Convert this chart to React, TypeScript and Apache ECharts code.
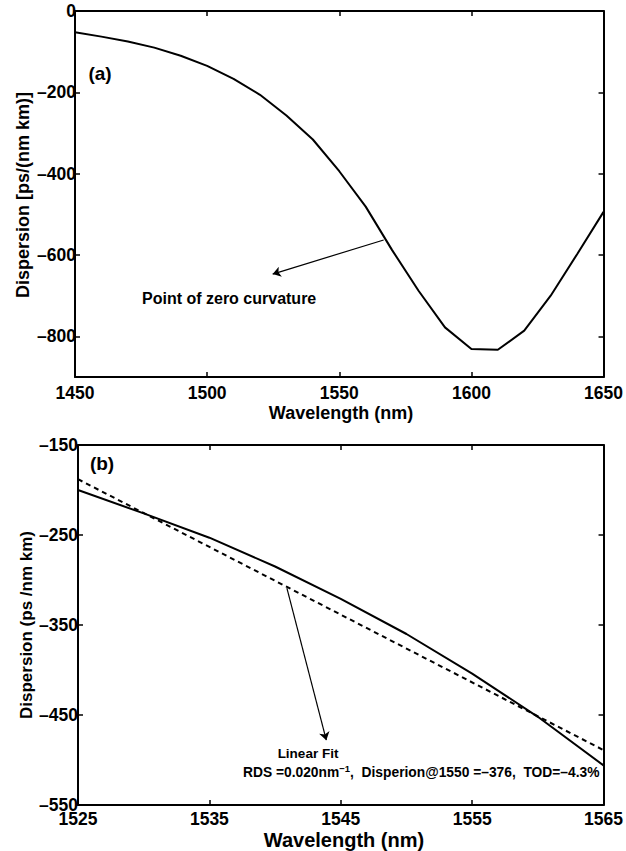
import React, { useEffect, useRef } from 'react';
import * as echarts from 'echarts';

// ---------- Data ----------
// Panel (a): dispersion vs wavelength
const lambdaA = [1450, 1460, 1470, 1480, 1490, 1500, 1510, 1520, 1530, 1540, 1550, 1560, 1570, 1580, 1590, 1600, 1610, 1620, 1630, 1640, 1650];
const dispA = [-52, -63, -75, -90, -110, -135, -167, -206, -257, -316, -394, -481, -588, -688, -778, -831, -833, -786, -700, -598, -494];
const yTicksA = [0, -200, -400, -600, -800];
// arrow: from point of zero curvature to label
const arrowA = [[1566.8, -563], [1524.8, -647]];

// Panel (b): zoom on 1525-1565 with linear fit
const lambdaB = [1525, 1530, 1535, 1540, 1545, 1550, 1555, 1560, 1565];
const dispB = [-200, -226, -253, -285, -321, -360, -404, -452, -506];
const fitLambdaB = [1525, 1565];
const fitDispB = [-188, -489];
const arrowB = [[1540.9, -309], [1543.9, -478]];

const FONT = '"Liberation Sans", Arial, Helvetica, sans-serif';
const BLACK = '#000';

const fmt = (v: number) => (v < 0 ? '\u2013' + Math.abs(v) : String(v));

const axisLine = { show: true, onZero: false, lineStyle: { color: BLACK, width: 2 } };
const tickStyle = { color: BLACK, width: 1.5 };
const labelStyle = { color: BLACK, fontSize: 17.5, fontWeight: 'bold' as const, fontFamily: FONT };

export default function App() {
  const ref = useRef<HTMLDivElement>(null);

  useEffect(() => {
    const chart = echarts.init(ref.current!, null, { renderer: 'svg' });

    const xA = { min: 1450, max: 1650, interval: 50 };
    const yA = { min: -900, max: 0 };
    const xB = { min: 1525, max: 1565, interval: 10 };
    const yB = { min: -550, max: -150, interval: 100 };

    const option: any = {
      animation: false,
      backgroundColor: '#fff',
      grid: [
        { left: 75, top: 11, width: 530, height: 366 },
        { left: 78, top: 445, width: 529, height: 360 },
      ],
      xAxis: [
        {
          gridIndex: 0, type: 'value', position: 'bottom', ...xA,
          axisLine, splitLine: { show: false },
          axisTick: { show: true, inside: true, length: 5, lineStyle: tickStyle },
          axisLabel: { ...labelStyle, margin: 7, formatter: fmt },
        },
        {
          gridIndex: 0, type: 'value', position: 'top', ...xA,
          axisLine, splitLine: { show: false },
          axisTick: { show: true, inside: true, length: 5, lineStyle: tickStyle },
          axisLabel: { show: false },
        },
        {
          gridIndex: 1, type: 'value', position: 'bottom', ...xB,
          axisLine, splitLine: { show: false },
          axisTick: { show: true, inside: true, length: 5, lineStyle: tickStyle },
          axisLabel: { ...labelStyle, margin: 5, formatter: fmt },
        },
        {
          gridIndex: 1, type: 'value', position: 'top', ...xB,
          axisLine, splitLine: { show: false },
          axisTick: { show: true, inside: true, length: 5, lineStyle: tickStyle },
          axisLabel: { show: false },
        },
      ],
      yAxis: [
        {
          gridIndex: 0, type: 'value', position: 'left', ...yA,
          axisLine, splitLine: { show: false },
          axisTick: { show: true, inside: true, length: 5, lineStyle: tickStyle, customValues: yTicksA },
          axisLabel: { ...labelStyle, margin: -1, formatter: fmt, customValues: yTicksA },
        },
        {
          gridIndex: 0, type: 'value', position: 'right', ...yA,
          axisLine, splitLine: { show: false },
          axisTick: { show: true, inside: true, length: 5, lineStyle: tickStyle, customValues: yTicksA },
          axisLabel: { show: false },
        },
        {
          gridIndex: 1, type: 'value', position: 'left', ...yB,
          axisLine, splitLine: { show: false },
          axisTick: { show: true, inside: true, length: 5, lineStyle: tickStyle },
          axisLabel: { ...labelStyle, margin: 0, formatter: fmt },
        },
        {
          gridIndex: 1, type: 'value', position: 'right', ...yB,
          axisLine, splitLine: { show: false },
          axisTick: { show: true, inside: true, length: 5, lineStyle: tickStyle },
          axisLabel: { show: false },
        },
      ],
      series: [
        {
          type: 'line', xAxisIndex: 0, yAxisIndex: 0, silent: true,
          data: lambdaA.map((l, i) => [l, dispA[i]]),
          showSymbol: false, symbol: 'none',
          lineStyle: { color: BLACK, width: 2 },
        },
        {
          type: 'lines', coordinateSystem: 'cartesian2d', xAxisIndex: 0, yAxisIndex: 0, silent: true,
          symbol: ['none', 'arrow'], symbolSize: 8,
          lineStyle: { color: BLACK, width: 1.2, opacity: 1, curveness: 0 },
          data: [{ coords: arrowA }],
        },
        {
          type: 'line', xAxisIndex: 2, yAxisIndex: 2, silent: true,
          data: lambdaB.map((l, i) => [l, dispB[i]]),
          showSymbol: false, symbol: 'none',
          lineStyle: { color: BLACK, width: 2 },
        },
        {
          type: 'line', xAxisIndex: 2, yAxisIndex: 2, silent: true,
          data: fitLambdaB.map((l, i) => [l, fitDispB[i]]),
          showSymbol: false, symbol: 'none',
          lineStyle: { color: BLACK, width: 2, type: [5, 4] },
        },
        {
          type: 'lines', coordinateSystem: 'cartesian2d', xAxisIndex: 2, yAxisIndex: 2, silent: true,
          symbol: ['none', 'arrow'], symbolSize: 8,
          lineStyle: { color: BLACK, width: 1.2, opacity: 1, curveness: 0 },
          data: [{ coords: arrowB }],
        },
      ],
      graphic: [
        { type: 'text', x: 100, y: 73, style: { text: '(a)', fill: BLACK, font: `bold 19px ${FONT}`, align: 'center', verticalAlign: 'middle' } },
        { type: 'text', x: 142, y: 298, style: { text: 'Point of zero curvature', fill: BLACK, font: `bold 16px ${FONT}`, align: 'left', verticalAlign: 'middle' } },
        { type: 'text', x: 341, y: 413, style: { text: 'Wavelength (nm)', fill: BLACK, font: `bold 18px ${FONT}`, align: 'center', verticalAlign: 'middle' } },
        { type: 'text', x: 23, y: 195, rotation: Math.PI / 2, style: { text: 'Dispersion [ps/(nm km)]', fill: BLACK, font: `bold 18px ${FONT}`, align: 'center', verticalAlign: 'middle' } },
        { type: 'text', x: 102, y: 463, style: { text: '(b)', fill: BLACK, font: `bold 19px ${FONT}`, align: 'center', verticalAlign: 'middle' } },
        { type: 'text', x: 308, y: 753, style: { text: 'Linear Fit', fill: BLACK, font: `bold 13.5px ${FONT}`, align: 'center', verticalAlign: 'middle' } },
        {
          type: 'text', x: 243, y: 772,
          style: {
            text: '{a|RDS =0.020nm}{s|\u22121}{a|,  Disperion@1550 =\u2013376,  TOD=\u20134.3%}',
            fill: BLACK, align: 'left', verticalAlign: 'middle',
            rich: {
              a: { fontSize: 13.8, fontWeight: 'bold', fontFamily: FONT, fill: BLACK },
              s: { fontSize: 9.5, fontWeight: 'bold', fontFamily: FONT, fill: BLACK, padding: [0, 0, 8, 0] },
            },
          },
        },
        { type: 'text', x: 344, y: 840, style: { text: 'Wavelength (nm)', fill: BLACK, font: `bold 20px ${FONT}`, align: 'center', verticalAlign: 'middle' } },
        { type: 'text', x: 26, y: 625, rotation: Math.PI / 2, style: { text: 'Dispersion (ps /nm km)', fill: BLACK, font: `bold 17px ${FONT}`, align: 'center', verticalAlign: 'middle' } },
      ],
    };

    chart.setOption(option);
    return () => chart.dispose();
  }, []);

  return (
    <div
      ref={ref}
      style={{ position: 'absolute', left: 0, top: 0, width: 626, height: 851, background: '#fff' }}
    />
  );
}
